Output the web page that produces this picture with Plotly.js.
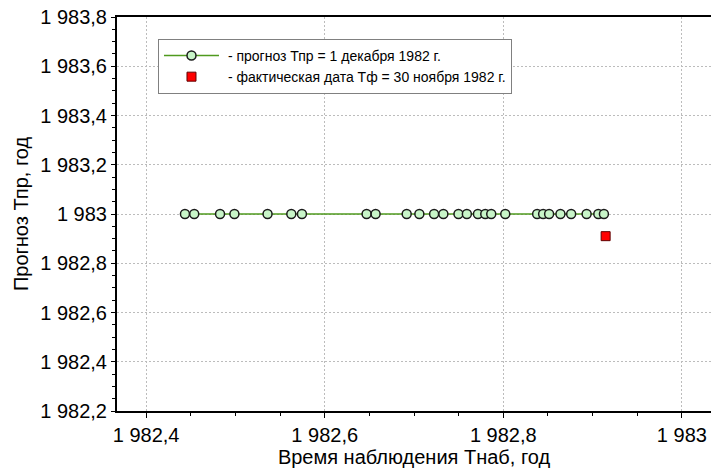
<!DOCTYPE html>
<html>
<head>
<meta charset="utf-8">
<script src="https://cdn.plot.ly/plotly-3.0.1.min.js"></script>
<style>html,body{margin:0;padding:0;background:#fff;}#chart{width:711px;height:475px;}</style>
</head>
<body>
<div id="chart"></div>
<script>
// Observation times (Tнаб, year)
const obsTimes = [1982.4435, 1982.4539, 1982.4828, 1982.4989, 1982.5360, 1982.5626, 1982.5745,
  1982.6469, 1982.6570, 1982.6918, 1982.7060, 1982.7225, 1982.7329, 1982.7498, 1982.7592,
  1982.7716, 1982.7798, 1982.7865, 1982.8022, 1982.8379, 1982.8446, 1982.8513, 1982.8640,
  1982.8760, 1982.8933, 1982.9064, 1982.9127];
// Forecast Tпр (year) for each observation
const forecast = [1983.0, 1983.0, 1983.0, 1983.0, 1983.0, 1983.0, 1983.0,
  1983.0, 1983.0, 1983.0, 1983.0, 1983.0, 1983.0, 1983.0, 1983.0,
  1983.0, 1983.0, 1983.0, 1983.0, 1983.0, 1983.0, 1983.0, 1983.0,
  1983.0, 1983.0, 1983.0, 1983.0];
// Actual date Tф
const actualX = [1982.9146];
const actualY = [1982.91];

const seriesNames = [' - прогноз Тпр = 1 декабря 1982 г.', ' - фактическая дата Тф = 30 ноября 1982 г.'];
const xTitle = 'Время наблюдения Тнаб, год';
const yTitle = 'Прогноз Тпр, год';

const FONT = 'Liberation Sans, Arial, sans-serif';

const traces = [
  {
    x: obsTimes, y: forecast, type: 'scatter', mode: 'lines+markers', name: seriesNames[0],
    line: {color: '#4f9a1e', width: 1.5},
    marker: {symbol: 'circle', size: 9, color: '#c8f5c8', line: {color: '#1a1a1a', width: 1.5}}
  },
  {
    x: actualX, y: actualY, type: 'scatter', mode: 'markers', name: seriesNames[1],
    marker: {symbol: 'square', size: 9, color: '#ff0000', line: {color: '#600000', width: 1}}
  }
];

const gridStyle = {showgrid: true, gridcolor: '#bcbcbc', griddash: '2px,2px', gridwidth: 1};

const layout = {
  width: 711, height: 475,
  margin: {l: 117, r: 0, t: 17, b: 64},
  paper_bgcolor: '#ffffff', plot_bgcolor: '#ffffff',
  separators: ', ',
  font: {family: FONT, color: '#000'},
  showlegend: true,
  legend: {
    x: 0.069, y: 0.9445, xanchor: 'left', yanchor: 'top',
    bgcolor: '#ffffff', bordercolor: '#808080', borderwidth: 1,
    font: {family: FONT, size: 14, color: '#000'},
    itemwidth: 55, tracegroupgap: 0
  },
  xaxis: Object.assign({
    range: [1982.3674, 1983.0326], dtick: 0.2, tick0: 1982.4,
    separatethousands: true,
    showline: true, linecolor: '#000', linewidth: 2, mirror: true,
    ticks: 'outside', ticklen: 5, tickcolor: '#000',
    tickfont: {family: FONT, size: 20, color: '#000'},
    minor: {dtick: 0.05, tick0: 1982.4, ticks: 'outside', ticklen: 3, tickcolor: '#000', showgrid: false},
    zeroline: false,
    title: {text: xTitle, font: {family: FONT, size: 20, color: '#000'}, standoff: 5}
  }, gridStyle),
  yaxis: Object.assign({
    range: [1982.2, 1983.8], dtick: 0.2, tick0: 1982.2,
    separatethousands: true,
    showline: true, linecolor: '#000', linewidth: 2, mirror: false,
    ticks: 'outside', ticklen: 4, tickcolor: '#000',
    tickfont: {family: FONT, size: 20, color: '#000'},
    minor: {dtick: 0.05, tick0: 1982.2, ticks: 'outside', ticklen: 3, tickcolor: '#000', showgrid: false},
    zeroline: false,
    title: {text: yTitle, font: {family: FONT, size: 20, color: '#000'}, standoff: 6}
  }, gridStyle)
};

Plotly.newPlot('chart', traces, layout, {displayModeBar: false, staticPlot: true});
</script>
</body>
</html>
